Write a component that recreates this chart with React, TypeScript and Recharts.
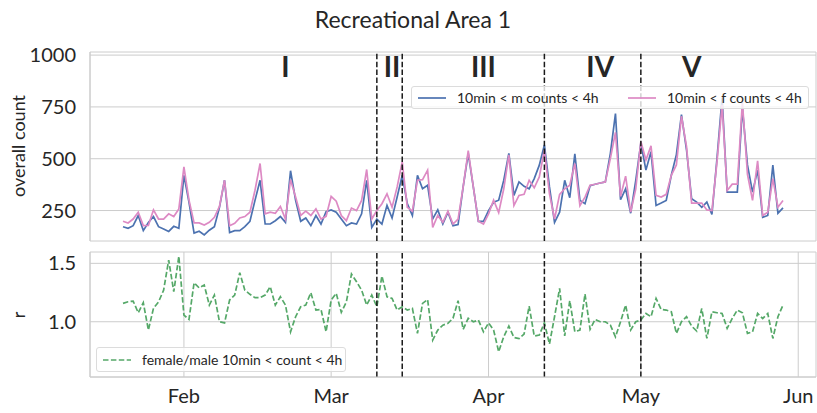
import React from 'react';
import {
  CartesianGrid,
  Label,
  Line,
  LineChart,
  ReferenceDot,
  ReferenceLine,
  XAxis,
  YAxis,
} from 'recharts';

// day-of-year (Jan 1 = 0); series start on Jan 20
const firstDay = 19;

const mCounts = [
  172, 164, 177, 226, 153, 192, 221, 172, 161, 149,
  174, 164, 420, 290, 141, 150, 132, 155, 172, 265,
  396, 144, 153, 153, 172, 198, 299, 396, 185, 185,
  201, 221, 193, 442, 299, 198, 214, 177, 226, 185,
  245, 253, 242, 209, 177, 190, 185, 234, 396, 169,
  209, 185, 275, 214, 315, 420, 283, 226, 420, 355,
  372, 209, 253, 185, 242, 177, 182, 364, 526, 364,
  198, 198, 250, 290, 300, 396, 526, 323, 388, 367,
  355, 404, 469, 567, 364, 193, 242, 396, 312, 523,
  299, 283, 370, 377, 383, 388, 526, 718, 302, 355,
  237, 396, 575, 445, 534, 274, 286, 299, 420, 520,
  713, 542, 307, 291, 266, 291, 231, 502, 795, 339,
  339, 339, 745, 470, 339, 445, 217, 226, 469, 237, 263,
];

const fCounts = [
  198, 190, 209, 242, 177, 178, 253, 209, 209, 234,
  221, 258, 461, 300, 190, 190, 180, 193, 217, 270,
  396, 177, 188, 214, 221, 242, 348, 477, 234, 242,
  237, 270, 209, 399, 315, 226, 247, 226, 258, 209,
  222, 318, 295, 226, 201, 262, 250, 299, 448, 209,
  250, 283, 331, 266, 364, 485, 266, 247, 396, 399,
  445, 169, 226, 193, 247, 185, 209, 364, 539, 364,
  198, 185, 234, 300, 240, 355, 518, 274, 323, 328,
  396, 360, 412, 542, 331, 209, 328, 355, 372, 477,
  274, 315, 372, 377, 383, 388, 502, 627, 318, 416,
  242, 355, 583, 494, 562, 323, 315, 328, 420, 470,
  705, 558, 286, 286, 286, 253, 250, 485, 760, 347,
  377, 377, 775, 425, 299, 490, 226, 242, 404, 266, 299,
];

const ratio = [
  1.157, 1.171, 1.177, 1.077, 1.163, 0.929, 1.115, 1.17, 1.27, 1.528,
  1.257, 1.56, 1.057, 1.02, 1.334, 1.29, 1.314, 1.143, 1.228, 1.0,
  0.99, 1.186, 1.228, 1.42, 1.27, 1.235, 1.206, 1.206, 1.228, 1.3,
  1.143, 1.214, 1.143, 0.914, 1.043, 1.128, 1.143, 1.248, 1.1, 1.106,
  0.914, 1.186, 1.243, 1.08, 1.17, 1.408, 1.342, 1.271, 1.143, 1.228,
  1.128, 1.391, 1.214, 1.2, 1.1, 1.128, 1.1, 1.114, 0.9, 1.157,
  1.19, 0.843, 0.929, 0.971, 0.986, 1.03, 1.18, 0.935, 1.03, 1.0,
  1.014, 0.914, 0.99, 0.929, 0.743, 0.872, 0.963, 0.866, 0.855, 0.895,
  1.134, 0.878, 0.886, 0.991, 0.809, 1.043, 1.286, 0.878, 1.18, 0.914,
  0.929, 1.237, 0.935, 1.02, 1.0, 1.0, 0.971, 0.871, 1.0, 1.143,
  0.929, 1.0, 1.014, 1.071, 1.043, 1.2, 1.106, 1.1, 1.086, 0.9,
  1.0, 1.043, 0.963, 0.92, 1.114, 0.857, 1.086, 1.077, 1.071, 0.943,
  1.028, 1.1, 1.077, 0.9, 0.914, 1.071, 1.028, 1.071, 0.857, 1.043, 1.143,
];

const monthTicks = [31, 60, 91, 121, 152];
const monthNames = ['Feb', 'Mar', 'Apr', 'May', 'Jun'];
const countTicks = [250, 500, 750, 1000];
const ratioTicks = [1.0, 1.5];
const phaseBounds = [69, 74, 102, 121];
const phaseNames = ['I', 'II', 'III', 'IV', 'V'];
const phaseLabelDays = [51, 72, 90, 113, 131];

const rows = mCounts.map((m, i) => ({
  day: firstDay + i,
  m,
  f: fCounts[i],
  r: ratio[i],
}));

const FONT = 'Lato, "DejaVu Sans", sans-serif';
const TEXT = '#262626';
const GRID = '#cccccc';
const BLUE = '#4c72b0';
const PINK = '#dd8ac4';
const GREEN = '#55a868';
const X_DOMAIN: [number, number] = [12.5, 155.5];

const tickStyle = { fontSize: 20, fill: TEXT, fontFamily: FONT };

const monthLabel = (v: number) => monthNames[monthTicks.indexOf(v)] ?? '';

const Sample = ({ color, dash }: { color: string; dash?: string }) => (
  <svg width={28} height={10} style={{ display: 'block' }}>
    <line x1={0} y1={5} x2={28} y2={5} stroke={color} strokeWidth={1.7} strokeDasharray={dash} />
  </svg>
);

const frameAxes = (
  <>
    <XAxis xAxisId="top" orientation="top" type="number" domain={X_DOMAIN} tick={false} tickLine={false} axisLine={{ stroke: GRID }} height={0} />
    <YAxis yAxisId="right" orientation="right" domain={[0, 1]} tick={false} tickLine={false} axisLine={{ stroke: GRID }} width={0} />
  </>
);

export default function App() {
  return (
    <div style={{ position: 'absolute', left: 0, top: 0, width: 817, height: 413, background: '#fff', fontFamily: FONT, color: TEXT }}>
      <div style={{ position: 'absolute', left: 0, top: 5, width: 826, textAlign: 'center', fontSize: 23 }}>
        Recreational Area 1
      </div>
      <div style={{ position: 'absolute', left: 18, top: 146, transform: 'translate(-50%, -50%) rotate(-90deg)', fontSize: 18, whiteSpace: 'nowrap' }}>
        overall count
      </div>
      <div style={{ position: 'absolute', left: 18, top: 315, transform: 'translate(-50%, -50%) rotate(-90deg)', fontSize: 18 }}>
        r
      </div>

      <div style={{ position: 'absolute', left: 0, top: 0 }}>
        <LineChart width={817} height={245} data={rows} margin={{ top: 52, right: 1, bottom: 4, left: 0 }}>
          <CartesianGrid stroke={GRID} />
          <XAxis dataKey="day" type="number" domain={X_DOMAIN} ticks={monthTicks} tick={false} tickLine={false} axisLine={{ stroke: GRID }} height={0} allowDataOverflow />
          <YAxis domain={[103, 1015]} ticks={countTicks} tick={tickStyle} tickLine={false} tickSize={0} tickMargin={14} axisLine={{ stroke: GRID }} width={90} allowDataOverflow />
          {frameAxes}
          <Line dataKey="m" stroke={BLUE} strokeWidth={1.7} dot={false} isAnimationActive={false} />
          <Line dataKey="f" stroke={PINK} strokeWidth={1.7} dot={false} isAnimationActive={false} />
          {phaseBounds.map((d) => (
            <ReferenceLine key={d} x={d} stroke="#1a1a1a" strokeWidth={1.5} strokeDasharray="5.5 2.4" />
          ))}
          {phaseNames.map((n, i) => (
            <ReferenceDot key={n} x={phaseLabelDays[i]} y={941} r={1} fill="none" stroke="none">
              <Label value={n} position="center" fontSize={28} fontWeight="bold" fill={TEXT} fontFamily={FONT} />
            </ReferenceDot>
          ))}
        </LineChart>
      </div>

      <div style={{ position: 'absolute', left: 0, top: 245 }}>
        <LineChart width={817} height={168} data={rows} margin={{ top: 7, right: 1, bottom: 0, left: 0 }}>
          <CartesianGrid stroke={GRID} />
          <XAxis dataKey="day" type="number" domain={X_DOMAIN} ticks={monthTicks} tickFormatter={monthLabel} tick={tickStyle} tickLine={false} tickSize={0} tickMargin={12} axisLine={{ stroke: GRID }} height={36} allowDataOverflow />
          <YAxis domain={[0.527, 1.597]} ticks={ratioTicks} tickFormatter={(v: number) => v.toFixed(1)} tick={tickStyle} tickLine={false} tickSize={0} tickMargin={14} axisLine={{ stroke: GRID }} width={90} allowDataOverflow />
          {frameAxes}
          <Line dataKey="r" stroke={GREEN} strokeWidth={1.7} strokeDasharray="5.5 2.4" dot={false} isAnimationActive={false} />
          {phaseBounds.map((d) => (
            <ReferenceLine key={d} x={d} stroke="#1a1a1a" strokeWidth={1.5} strokeDasharray="5.5 2.4" />
          ))}
        </LineChart>
      </div>

      <div style={{ position: 'absolute', left: 411, top: 86, width: 398, height: 23, boxSizing: 'border-box', border: '1px solid #dcdcdc', borderRadius: 3, background: 'rgba(255,255,255,0.8)', display: 'flex', alignItems: 'center', fontSize: 14 }}>
        <div style={{ marginLeft: 6 }}><Sample color={BLUE} /></div>
        <span style={{ marginLeft: 11 }}>10min &lt; m counts &lt; 4h</span>
        <div style={{ position: 'absolute', left: 216 }}><Sample color={PINK} /></div>
        <span style={{ position: 'absolute', left: 255 }}>10min &lt; f counts &lt; 4h</span>
      </div>

      <div style={{ position: 'absolute', left: 96, top: 347, width: 250, height: 25, boxSizing: 'border-box', border: '1px solid #dcdcdc', borderRadius: 3, background: 'rgba(255,255,255,0.8)', display: 'flex', alignItems: 'center', fontSize: 14 }}>
        <div style={{ marginLeft: 6 }}><Sample color={GREEN} dash="5.5 2.4" /></div>
        <span style={{ marginLeft: 11 }}>female/male 10min &lt; count &lt; 4h</span>
      </div>
    </div>
  );
}
